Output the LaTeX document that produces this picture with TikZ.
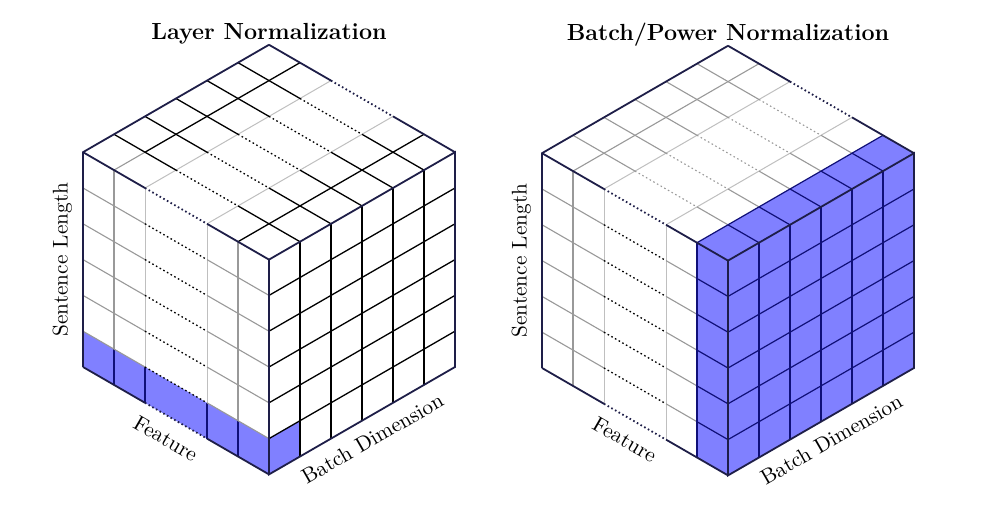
\documentclass[tikz,border=0pt]{standalone}
\usepackage{tikz}
\usetikzlibrary{positioning}

\definecolor{edgeblue}{RGB}{30,30,72}
\definecolor{cellblue}{RGB}{128,128,255}
\definecolor{lineblue}{RGB}{16,16,120}

\begin{document}
\begin{tikzpicture}[
      edge/.style={draw=edgeblue,line width=0.9pt},
      dots/.style={dash pattern=on 0.8pt off 1.3pt},
      grid/.style={draw=black,line width=0.65pt},
      midgrid/.style={draw=gray!80,line width=0.55pt},
      lightgrid/.style={draw=gray!50,line width=0.5pt},
      bluegrid/.style={draw=lineblue,line width=0.6pt},
      lab/.style={font=\fontsize{10.6pt}{12pt}\selectfont},
      title/.style={font=\fontsize{11.6pt}{13pt}\selectfont\bfseries},
      iso/.style={x={(0.5425cm,-0.3133cm)},y={(0.5425cm,0.3133cm)},z={(0cm,0.6265cm)}}
    ]
    \useasboundingbox (0,0) rectangle (17.5,8.925);

    % ---------- layer normalization ----------
    \begin{scope}[shift={(1.4525cm,2.5025cm)},iso]
    % highlighted cells
    \fill[cellblue] (0,0,0) -- (6,0,0) -- (6,0,1) -- (0,0,1) -- cycle;
    \fill[cellblue] (6,0,0) -- (6,1,0) -- (6,1,1) -- (6,0,1) -- cycle;

    % left face (feature x sentence)
    \foreach \f/\s in {1/midgrid,2/lightgrid,4/lightgrid,5/midgrid}
      \draw[\s] (\f,0,1) -- (\f,0,6);
    \foreach \f in {1,2,4,5}
      \draw[bluegrid] (\f,0,0) -- (\f,0,1);
    \foreach \z in {1,...,5} {
      \draw[midgrid] (0,0,\z) -- (2,0,\z);
      \draw[grid,dots] (2,0,\z) -- (4,0,\z);
      \draw[midgrid] (4,0,\z) -- (6,0,\z);
    }

    % top face
    \draw[midgrid] (1,0,6) -- (1,1,6);
    \draw[lightgrid] (2,0,6) -- (2,6,6);
    \draw[lightgrid] (4,0,6) -- (4,6,6);
    \draw[grid] (1,1,6) -- (1,6,6);
    \draw[grid] (5,0,6) -- (5,6,6);
    \foreach \b in {1,...,5} {
      \draw[grid] (0,\b,6) -- (2,\b,6);
      \draw[grid,dots] (2,\b,6) -- (4,\b,6);
      \draw[grid] (4,\b,6) -- (6,\b,6);
    }

    % right face (batch x sentence)
    \foreach \b in {1,...,5}
      \draw[grid] (6,\b,0) -- (6,\b,6);
    \foreach \z in {1,...,5}
      \draw[grid] (6,0,\z) -- (6,6,\z);

    % outer edges
    \draw[edge] (0,0,0) -- (0,0,6) -- (0,6,6);
    \draw[edge] (6,0,0) -- (6,0,6) -- (6,6,6) -- (6,6,0) -- cycle;
    \foreach \b/\z in {0/0,0/6,6/6} {
      \draw[edge] (0,\b,\z) -- (2,\b,\z);
      \draw[edge,dots] (2,\b,\z) -- (4,\b,\z);
      \draw[edge] (4,\b,\z) -- (6,\b,\z);
    }

    % labels
    \node[title,anchor=base,yshift=2.5pt] (ln) at (0,6,6) {Layer Normalization};
    \path (0,0,0) -- node[lab,sloped,above=2pt] (sl1) {Sentence Length} (0,0,6);
    \path (0,0,0) -- node[lab,sloped,below=3pt] (ft1) {Feature} (6,0,0);
    \path (6,0,0) -- node[lab,sloped,below=3pt] (bd1) {Batch Dimension} (6,6,0);
    \end{scope}

    % ---------- batch/power normalization ----------
    \begin{scope}[shift={(9.485cm,2.485cm)},iso]
    % highlighted slab
    \fill[cellblue] (5,0,0) -- (6,0,0) -- (6,6,0) -- (6,6,6) -- (5,6,6) -- (5,0,6) -- cycle;

    % left face
    \foreach \f/\s in {1/midgrid,2/lightgrid,4/lightgrid}
      \draw[\s] (\f,0,0) -- (\f,0,6);
    \foreach \z in {1,...,5} {
      \draw[midgrid] (0,0,\z) -- (2,0,\z);
      \draw[grid,dots] (2,0,\z) -- (4,0,\z);
      \draw[midgrid] (4,0,\z) -- (5,0,\z);
      \draw[bluegrid] (5,0,\z) -- (6,0,\z);
    }
    \draw[bluegrid] (5,0,0) -- (5,0,6);

    % top face
    \draw[midgrid] (1,0,6) -- (1,6,6);
    \draw[lightgrid] (2,0,6) -- (2,6,6);
    \draw[lightgrid] (4,0,6) -- (4,6,6);
    \foreach \b in {1,...,5} {
      \draw[midgrid] (0,\b,6) -- (2,\b,6);
      \draw[midgrid,dots] (2,\b,6) -- (4,\b,6);
      \draw[midgrid] (4,\b,6) -- (5,\b,6);
      \draw[bluegrid] (5,\b,6) -- (6,\b,6);
    }
    \draw[bluegrid] (5,0,6) -- (5,6,6);

    % right face
    \foreach \b in {1,...,5}
      \draw[bluegrid] (6,\b,0) -- (6,\b,6);
    \foreach \z in {1,...,5}
      \draw[bluegrid] (6,0,\z) -- (6,6,\z);

    % outer edges
    \draw[edge] (0,0,0) -- (0,0,6) -- (0,6,6);
    \draw[edge] (6,0,0) -- (6,0,6) -- (6,6,6) -- (6,6,0) -- cycle;
    \foreach \b/\z in {0/0,0/6,6/6} {
      \draw[edge] (0,\b,\z) -- (2,\b,\z);
      \draw[edge,dots] (2,\b,\z) -- (4,\b,\z);
      \draw[edge] (4,\b,\z) -- (6,\b,\z);
    }

    % labels
    \node[title,anchor=base,yshift=2.5pt] (bn) at (0,6,6) {Batch/Power Normalization};
    \path (0,0,0) -- node[lab,sloped,above=2pt] (sl2) {Sentence Length} (0,0,6);
    \path (0,0,0) -- node[lab,sloped,below=3pt] (ft2) {Feature} (6,0,0);
    \path (6,0,0) -- node[lab,sloped,below=3pt] (bd2) {Batch Dimension} (6,6,0);
    \end{scope}
\end{tikzpicture}
\end{document}
